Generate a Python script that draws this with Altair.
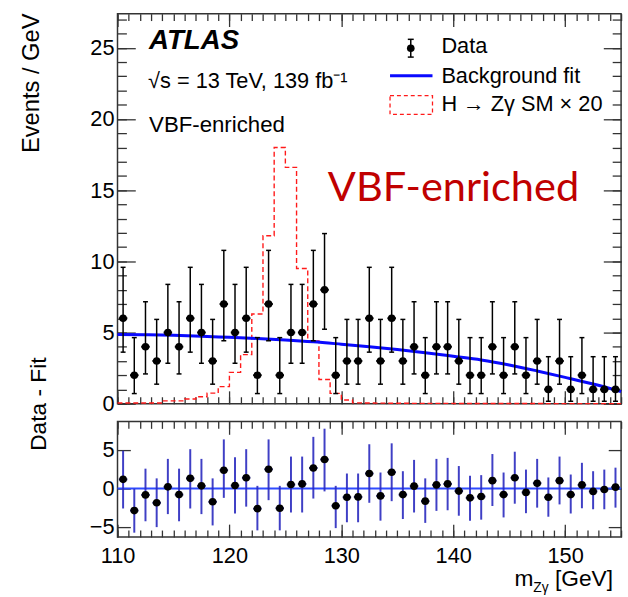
import altair as alt
import pandas as pd

# ---------------- data ----------------
bin_centers = [110.5 + i for i in range(45)]
counts = [6, 2, 4, 3, 5, 4, 6, 5, 3, 7, 5, 6, 2, 7, 2, 5, 5, 7, 8, 2, 3, 3,
          6, 3, 6, 3, 4, 2, 4, 4, 3, 2, 2, 4, 2, 4, 2, 3, 1, 3, 1, 2, 1, 1, 1]
err_lo = [2.38, 1.29, 1.91, 1.63, 2.16, 1.91, 2.38, 2.16, 1.63, 2.58, 2.16, 2.38, 1.29, 2.58, 1.29,
          2.16, 2.16, 2.58, 2.77, 1.29, 1.63, 1.63, 2.38, 1.63, 2.38, 1.63, 1.91, 1.29, 1.91, 1.91,
          1.63, 1.29, 1.29, 1.91, 1.29, 1.91, 1.29, 1.63, 0.83, 1.63, 0.83, 1.29, 0.83, 0.83, 0.83]
err_hi = [3.58, 2.64, 3.16, 2.92, 3.38, 3.16, 3.58, 3.38, 2.92, 3.77, 3.38, 3.58, 2.64, 3.77, 2.64,
          3.38, 3.38, 3.77, 3.95, 2.64, 2.92, 2.92, 3.58, 2.92, 3.58, 2.92, 3.16, 2.64, 3.16, 3.16,
          2.92, 2.64, 2.64, 3.16, 2.64, 3.16, 2.64, 2.92, 2.30, 2.92, 2.30, 2.64, 2.30, 2.30, 2.30]

fit_mass = [110, 112.5, 115, 117.5, 120, 122.5, 125, 127.5, 130, 132.5, 135, 137.5,
            140, 142.5, 145, 147.5, 150, 152.5, 155]
fit_vals = [4.86, 4.84, 4.80, 4.74, 4.66, 4.58, 4.48, 4.35, 4.18, 4.00, 3.80, 3.58,
            3.33, 3.07, 2.72, 2.30, 1.85, 1.38, 0.85]

sig_edges = [110 + i for i in range(46)]
sig_vals = [0.05, 0.05, 0.05, 0.05, 0.2, 0.2, 0.33, 0.49, 0.74, 1.2, 2.2, 3.45, 6.3, 11.8, 18.0,
            16.6, 9.5, 4.4, 1.7, 0.72, 0.26, 0.06, 0.05, 0.04, 0.03, 0.03, 0.02, 0.02, 0.02, 0.02,
            0.01, 0.01, 0.01, 0.01, 0.01, 0.01, 0.01, 0.01, 0.0, 0.0, 0.0, 0.0, 0.0, 0.0, 0.0]

residuals = [1.18, -2.87, -0.84, -1.86, 0.21, -0.80, 1.31, 0.34, -1.73, 2.36, 0.38,
             1.39, -2.62, 2.49, -2.57, 0.51, 0.59, 2.66, 3.76, -2.24, -1.14, -1.10,
             1.94, -0.97, 2.11, -0.80, 0.30, -1.65, 0.46, 0.59, -0.34, -1.22, -1.05,
             1.01, -0.80, 1.39, -0.51, 0.68, -1.14, 1.01, -0.80, 0.46, -0.38, -0.13, 0.17]
res_top = [4.90, -0.04, 2.57, 1.31, 3.84, 2.57, 5.10, 3.84, 1.31, 6.37, 4.05,
           5.10, 0.34, 6.37, 0.34, 4.14, 4.14, 6.70, 7.76, 0.34, 1.94, 1.94,
           5.74, 2.07, 5.86, 2.24, 3.71, 1.31, 3.84, 3.97, 2.91, 1.65, 1.73,
           4.47, 2.07, 4.77, 2.45, 3.84, 1.43, 4.14, 1.81, 3.33, 2.24, 2.45, 2.70]
res_bot = [-2.60, -5.74, -4.26, -5.02, -3.33, -4.26, -2.60, -3.33, -4.80, -1.22, -3.24,
           -2.36, -5.44, -1.52, -5.44, -3.12, -3.12, -1.31, -0.38, -5.15, -4.39, -4.39,
           -1.86, -4.18, -1.65, -3.97, -3.12, -4.47, -2.91, -2.83, -3.54, -4.18, -4.05,
           -2.28, -3.76, -1.98, -3.21, -2.49, -3.67, -2.07, -3.25, -2.57, -2.70, -2.70, -2.49]

x_major = [110, 120, 130, 140, 150]
x_minor = list(range(110, 156))
y_major_top = [0, 5, 10, 15, 20, 25]
y_minor_top = list(range(0, 28))
y_major_bot = [-5, 0, 5]

# ---------------- tables ----------------
data_df = pd.DataFrame({"m": bin_centers, "n": counts, "elo": err_lo, "ehi": err_hi})
data_df["lo"] = data_df["n"] - data_df["elo"]
data_df["hi"] = data_df["n"] + data_df["ehi"]
data_df["xl"] = data_df["m"] - 0.38
data_df["xr"] = data_df["m"] + 0.38
data_df["cl"] = data_df["m"] - 0.22
data_df["cr"] = data_df["m"] + 0.22

fit_df = pd.DataFrame({"m": fit_mass, "f": fit_vals})
sig_df = pd.DataFrame({"m": sig_edges, "s": sig_vals + [sig_vals[-1]]})

res_df = pd.DataFrame({"m": bin_centers, "r": residuals, "t": res_top, "b": res_bot})
res_df["xl"] = res_df["m"] - 0.38
res_df["xr"] = res_df["m"] + 0.38

one = pd.DataFrame({"k": [0]})

FONT = "Liberation Sans"
TICK = "#333333"
W = 510
H_TOP = 395
H_BOT = 117

xs = alt.Scale(domain=[110, 155], nice=False, zero=False)
ys_top = alt.Scale(domain=[0, 27.4], nice=False, zero=False)
ys_bot = alt.Scale(domain=[-6.3, 8.7], nice=False, zero=False)


def ax(orient, values, size, **kw):
    base = dict(orient=orient, values=values, tickSize={"expr": str(-size)},
                domain=False, grid=False, ticks=True, tickColor=TICK, tickWidth=1.3,
                labels=False, title=None)
    base.update(kw)
    return alt.Axis(**base)


lab = dict(labels=True, labelFont=FONT, labelFontSize=22, labelColor="black",
           labelFlush=False, labelOverlap=False)

# ---------------- top panel ----------------
sig = alt.Chart(sig_df).mark_line(interpolate="step-after", color="#ff1a1a",
                                  strokeDash=[5, 3], strokeWidth=1.4).encode(
    x=alt.X("m:Q", scale=xs, axis=ax("bottom", x_minor, 7)),
    y=alt.Y("s:Q", scale=ys_top, axis=ax("left", y_minor_top, 9)))

fit = alt.Chart(fit_df).mark_line(color="#0a0aff", strokeWidth=3, interpolate="monotone").encode(
    x=alt.X("m:Q", scale=xs, axis=ax("bottom", x_major, 13)),
    y=alt.Y("f:Q", scale=ys_top, axis=ax(
        "left", y_major_top, 18, labelPadding=21.5, title="Events / GeV",
        titleFont=FONT, titleFontSize=24, titleFontWeight="normal", titleColor="black",
        titleAngle=-90, titleX=-87, titleY=70, titleAlign="center", titleBaseline="middle",
        **lab)))

ebar = alt.Chart(data_df).mark_rule(color="black", strokeWidth=1.5).encode(
    x=alt.X("m:Q", scale=xs, axis=ax("top", x_minor, 7)),
    y=alt.Y("lo:Q", scale=ys_top, axis=ax("right", y_minor_top, 9)),
    y2="hi:Q")

cap_hi = alt.Chart(data_df).mark_rule(color="black", strokeWidth=1.5).encode(
    x=alt.X("cl:Q", scale=xs, axis=ax("top", x_major, 13)),
    x2="cr:Q",
    y=alt.Y("hi:Q", scale=ys_top, axis=ax("right", y_major_top, 18)))

cap_lo = alt.Chart(data_df).mark_rule(color="black", strokeWidth=1.5).encode(
    x=alt.X("cl:Q", scale=xs, axis=None), x2="cr:Q",
    y=alt.Y("lo:Q", scale=ys_top, axis=None))

hbar = alt.Chart(data_df).mark_rule(color="black", strokeWidth=2).encode(
    x=alt.X("xl:Q", scale=xs, axis=None), x2="xr:Q",
    y=alt.Y("n:Q", scale=ys_top, axis=None))

pts = alt.Chart(data_df).mark_circle(size=60, color="black", opacity=1).encode(
    x=alt.X("m:Q", scale=xs, axis=None),
    y=alt.Y("n:Q", scale=ys_top, axis=None))

# legend
leg_eb = alt.Chart(one).mark_rule(color="black", strokeWidth=1.5).encode(
    x=alt.value(297), y=alt.value(26), y2=alt.value(44))
leg_c1 = alt.Chart(one).mark_rule(color="black", strokeWidth=1.5).encode(
    x=alt.value(294), x2=alt.value(300), y=alt.value(26))
leg_c2 = alt.Chart(one).mark_rule(color="black", strokeWidth=1.5).encode(
    x=alt.value(294), x2=alt.value(300), y=alt.value(44))
leg_pt = alt.Chart(one).mark_circle(size=60, color="black", opacity=1).encode(
    x=alt.value(297), y=alt.value(35))
leg_line = alt.Chart(one).mark_rule(color="#0a0aff", strokeWidth=3).encode(
    x=alt.value(276), x2=alt.value(319), y=alt.value(63))
leg_box = alt.Chart(one).mark_rect(fillOpacity=0, stroke="#ff1a1a", strokeDash=[4, 3],
                                   strokeWidth=1.3).encode(
    x=alt.value(276), x2=alt.value(319), y=alt.value(83), y2=alt.value(102))


def txt(text, x, y, size, **kw):
    props = dict(align="left", baseline="alphabetic", font=FONT, fontSize=size, color="black")
    props.update(kw)
    return alt.Chart(one).mark_text(text=text, **props).encode(x=alt.value(x), y=alt.value(y))


t_data = txt("Data", 328, 40, 22)
t_bkg = txt("Background fit", 328, 70, 22)
t_sig = txt("H \u2192 Z\u03b3 SM \u00d7 20", 328, 99, 22)
t_atlas = txt("ATLAS", 32, 36, 28, fontStyle="italic", fontWeight="bold")
t_sqrt = txt("\u221as = 13 TeV, 139 fb\u207b\u00b9", 31, 75, 22)
t_cat = txt("VBF-enriched", 32, 120, 22.5)
t_big = txt("VBF-enriched", 213, 190, 42, font="Lato", color="#c00000")

top = alt.layer(sig, fit, ebar, cap_hi, cap_lo, hbar, pts,
                leg_eb, leg_c1, leg_c2, leg_pt, leg_line, leg_box,
                t_data, t_bkg, t_sig, t_atlas, t_sqrt, t_cat, t_big
                ).resolve_axis(x="independent", y="independent").properties(width=W, height=H_TOP)

# ---------------- bottom panel ----------------
zero = alt.Chart(one).mark_rule(color="#2f4bff", strokeWidth=2).encode(
    x=alt.X(datum=110, scale=xs, axis=ax("top", x_major, 13)),
    x2=alt.datum(155),
    y=alt.Y(datum=0, scale=ys_bot, axis=None))

rbar = alt.Chart(res_df).mark_rule(color="#2a2abf", strokeWidth=2, opacity=0.9).encode(
    x=alt.X("m:Q", scale=xs, axis=ax("bottom", x_minor, 7)),
    y=alt.Y("b:Q", scale=ys_bot, axis=ax(
        "left", y_major_bot, 13, labelPadding=16.5, title="Data - Fit",
        titleFont=FONT, titleFontSize=23, titleFontWeight="normal", titleColor="black",
        titleAngle=-90, titleX=-80, titleY=-18, titleAlign="center", titleBaseline="middle",
        **lab)),
    y2="t:Q")

rhbar = alt.Chart(res_df).mark_rule(color="#1c1c70", strokeWidth=2).encode(
    x=alt.X("xl:Q", scale=xs, axis=ax("bottom", x_major, 13, labelPadding=22, **lab)),
    x2="xr:Q",
    y=alt.Y("r:Q", scale=ys_bot, axis=ax("right", y_major_bot, 13)))

rpts = alt.Chart(res_df).mark_circle(size=60, color="black", opacity=1).encode(
    x=alt.X("m:Q", scale=xs, axis=ax("top", x_minor, 7)),
    y=alt.Y("r:Q", scale=ys_bot, axis=None))

t_m = txt("m", 402, 167, 23)
t_sub = txt("Z\u03b3", 421, 173, 14)
t_gev = txt("[GeV]", 443, 167, 23)

bottom = alt.layer(zero, rbar, rhbar, rpts, t_m, t_sub, t_gev
                   ).resolve_axis(x="independent", y="independent").properties(width=W, height=H_BOT)

chart = alt.vconcat(top, bottom, spacing=18).properties(
    bounds="flush",
    padding={"left": 19, "top": 8, "right": 0, "bottom": 0},
    background="white",
).configure_view(stroke="#333333", strokeWidth=1.5)

chart.save("out.html", embed_options={"renderer": "svg", "actions": False})
